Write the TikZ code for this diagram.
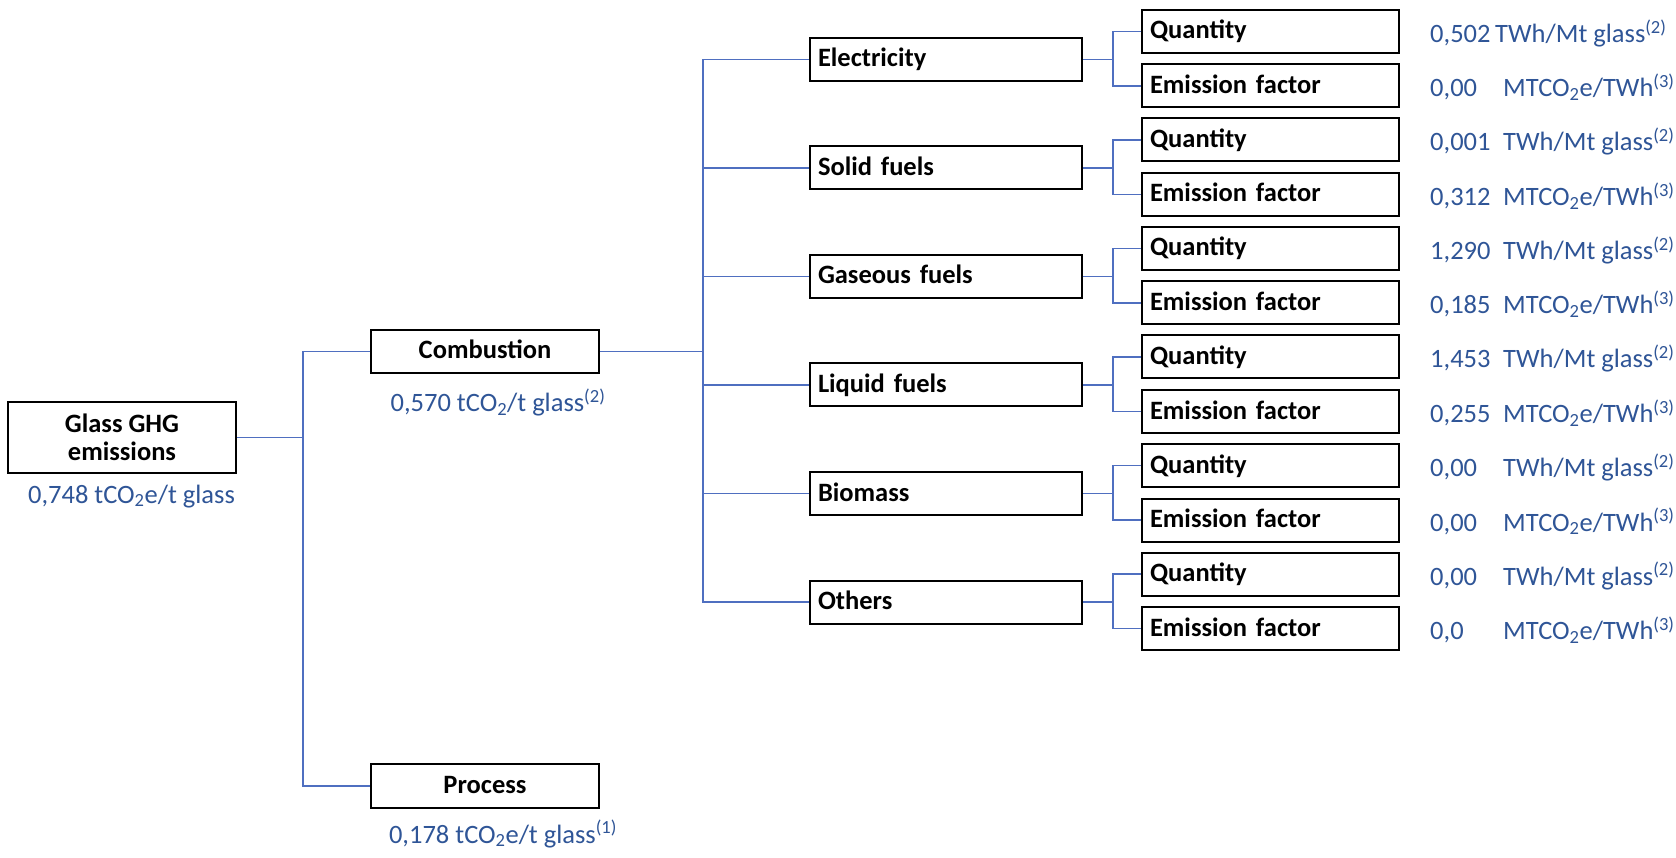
\documentclass[tikz,border=0pt]{standalone}
\usepackage{fontspec}
\setmainfont{Carlito}
\definecolor{lineblue}{HTML}{4F6FC0}
\definecolor{txtblue}{HTML}{2F5597}
\tikzset{
  box/.style={draw=black, line width=2pt, inner sep=0pt, font=\bfseries\fontsize{26.5}{28}\selectfont},
  fuelbox/.style={box, minimum width=272pt, minimum height=43pt, text width=256pt, align=left, text height=18pt, text depth=3pt},
  subbox/.style={box, minimum width=257pt, minimum height=43pt, text width=241pt, align=left, text height=18pt, text depth=3pt},
  mainbox/.style={box, minimum width=228pt, minimum height=43pt, align=center, text height=18pt, text depth=3pt},
  conn/.style={draw=lineblue, line width=1.8pt},
  valtxt/.style={anchor=base west, inner sep=0pt, text=txtblue, font=\fontsize{26.5}{30}\selectfont},
  lbl/.style={anchor=base, inner sep=0pt, text=txtblue, font=\fontsize{26.5}{30}\selectfont}
}
\newcommand\fuelgroup[5]{%
  \node[fuelbox] (#1) at (946,#3) {#2};
  \node[subbox] (#1q) at (1270.5,#3-28) {Quantity};
  \node[subbox] (#1e) at (1270.5,#3+26.5) {Emission factor};
  \node[valtxt] (#1qv) at (1430,#3-17) {#4};
  \node[valtxt] (#1ev) at (1430,#3+37.5) {#5};
  \draw[conn] (#1.east) -- ++(30,0) coordinate (#1j);
  \draw[conn] (#1q.west) -| (#1j) |- (#1e.west);
}
\newcommand\qv[2]{\makebox[#2][l]{#1}TWh/Mt glass\textsuperscript{(2)}}
\newcommand\ev[1]{\makebox[73pt][l]{#1}MTCO\textsubscript{2}e/TWh\textsuperscript{(3)}}
\begin{document}
\begin{tikzpicture}[x=1pt,y=-1pt]
\fill[white] (0,0) rectangle (1676,858);
\useasboundingbox (0,0) rectangle (1676,858);

% main boxes
\node[box, minimum width=228pt, minimum height=71pt, align=center] (glass) at (122,437.5) {Glass GHG\\emissions};
\node[mainbox] (comb) at (485,351.5) {Combustion};
\node[mainbox, minimum height=44pt] (proc) at (485,786) {Process};

\node[lbl] (glassv) at (131.5,503) {0,748 tCO\textsubscript{2}e/t glass};
\node[lbl] (combv) at (498,411.5) {0,570 tCO\textsubscript{2}/t glass\textsuperscript{(2)}};
\node[lbl] (procv) at (503,843) {0,178 tCO\textsubscript{2}e/t glass\textsuperscript{(1)}};

\coordinate (j1) at (303,437.5);
\coordinate (j2) at (703,351.5);
\draw[conn] (glass.east) -- (j1);
\draw[conn] (comb.west) -| (j1) |- (proc.west);
\draw[conn] (comb.east) -- (j2);

% fuel groups
\fuelgroup{elec}{Electricity}{59.5}{\qv{0,502}{65pt}}{\ev{0,00}}
\fuelgroup{solid}{Solid fuels}{168}{\qv{0,001}{73pt}}{\ev{0,312}}
\fuelgroup{gas}{Gaseous fuels}{276.5}{\qv{1,290}{73pt}}{\ev{0,185}}
\fuelgroup{liq}{Liquid fuels}{385}{\qv{1,453}{73pt}}{\ev{0,255}}
\fuelgroup{bio}{Biomass}{493.5}{\qv{0,00}{73pt}}{\ev{0,00}}
\fuelgroup{oth}{Others}{602}{\qv{0,00}{73pt}}{\ev{0,0}}

\draw[conn] (elec.west) -| (j2) |- (oth.west);
\draw[conn] (solid.west) -- (j2 |- solid.west);
\draw[conn] (gas.west) -- (j2 |- gas.west);
\draw[conn] (liq.west) -- (j2 |- liq.west);
\draw[conn] (bio.west) -- (j2 |- bio.west);
\end{tikzpicture}
\end{document}
